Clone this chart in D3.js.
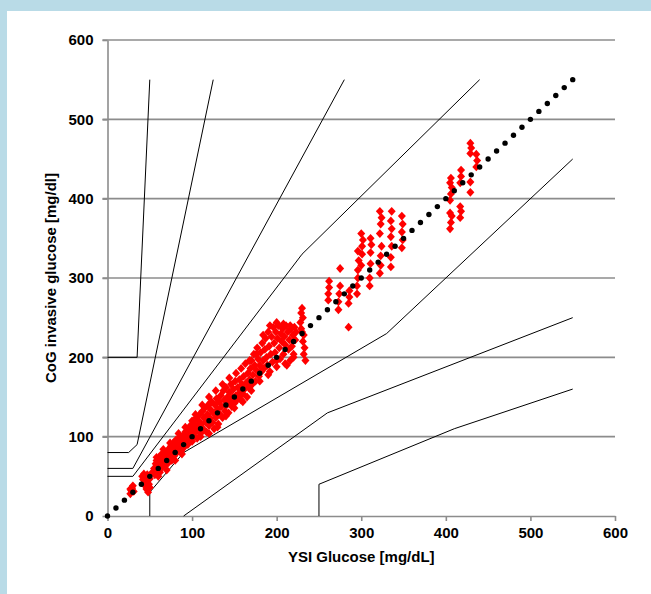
<!DOCTYPE html>
<meta charset="utf-8">
<style>
  body { margin: 0; }
  text { font-family: "Liberation Sans", Arial, sans-serif; font-weight: bold; }
</style>
<script src="https://d3js.org/d3.v7.min.js"></script>
<div id="my_dataviz"></div>
<script>

// axis ticks
var xTicks = [0, 100, 200, 300, 400, 500, 600];
var yTicks = [0, 100, 200, 300, 400, 500, 600];

// Parkes (type 2) error grid boundaries, [YSI, CoG]
var zoneA_upper = [[0, 50], [30, 50], [230, 330], [440, 550]];
var zoneA_lower = [[50, 0], [50, 30], [90, 80], [330, 230], [550, 450]];
var zoneB_upper = [[0, 60], [30, 60], [280, 550]];
var zoneB_lower = [[90, 0], [260, 130], [550, 250]];
var zoneC_upper = [[0, 80], [25, 80], [35, 90], [125, 550]];
var zoneC_lower = [[250, 0], [250, 40], [410, 110], [550, 160]];
var zoneD_upper = [[0, 200], [35, 200], [50, 550]];

// identity reference dots
var refValues = [0, 10, 20, 30, 40, 50, 60, 70, 80, 90, 100, 110, 120, 130, 140, 150, 160, 170, 180, 190,
  200, 210, 220, 230, 240, 250, 260, 270, 280, 290, 300, 310, 320, 330, 340, 350, 360, 370, 380, 390,
  400, 410, 420, 430, 440, 450, 460, 470, 480, 490, 500, 510, 520, 530, 540, 550];

// paired readings [YSI, CoG]
var lowRange = [[27,28],[28,32],[29,35],[30,38],[31,31],[27,34],
  [41,50],[42,46],[43,53],[44,42],[45,38],[45,48],[46,34],[47,44],[47,52],[48,30],[49,40],[50,36],[50,47],[43,40],
  [53,55],[55,60],[56,52],[57,66],[58,70],[59,58],[60,62],[61,74],[62,55],[63,68],[64,78],[65,62],[66,72],[67,65],
  [68,80],[69,70],[70,76],[71,66],[72,84],[73,72],[74,78],[75,88],[76,70],[77,82],[78,92],[79,76],[80,86],[81,96],
  [82,80],[83,90],[84,84],[85,98],[86,88],[87,82],[88,94],[89,100],[90,86],
  [92,106],[93,96],[94,102],[95,90],[96,108],[97,98],[98,114],[99,104],[100,94],[100,120],[101,110],[102,100],
  [103,116],[104,106],[105,124],[106,98],
  [58,74],[66,84],[74,92],[84,104],[92,112],[60,50],[70,58],[80,70],[88,78]];

var midLowRange = [[107,112],[108,120],[109,128],[110,104],[111,116],[112,132],[113,110],[114,124],[115,136],
  [116,118],[117,106],[118,128],[119,140],[120,114],[121,124],[122,134],[123,144],[124,118],[125,130],[126,110],
  [127,140],[128,124],[129,148],[130,134],[131,116],[132,144],[133,128],[134,152],[135,138],[136,124],[137,158],
  [138,146],[139,132],[140,162],[141,140],[142,150],[143,130],[144,156],[145,144],[146,166],[147,138],[148,150],
  [149,160],[150,142],[151,170],[152,152],[153,146],[154,162],[155,150],[156,172],[157,156],[158,146],[159,166],
  [160,154],[161,176],[162,160],[163,192],[164,168],[165,150],
  [104,128],[112,140],[120,150],[128,158],[136,166],[144,174],[152,180],[158,186],
  [110,100],[120,104],[130,112],[140,126],[150,136],[160,144]];

var midRange = [[166,180],[167,162],[168,172],[169,186],[170,196],[171,166],[172,178],[173,204],[174,190],[175,170],
  [176,184],[177,212],[178,198],[179,176],[180,190],[181,206],[182,182],[183,218],[184,196],[185,186],[186,210],
  [187,224],[188,200],[189,190],[190,232],[191,214],[192,182],[193,204],[194,226],[195,194],[196,238],[197,218],
  [198,206],[199,232],[200,196],[201,224],[202,240],[203,212],[204,198],[205,230],[206,220],[207,236],[208,204],
  [209,226],[210,216],[211,240],[212,190],[213,232],[214,210],[215,222],[216,196],[217,236],[218,214],[219,228],
  [220,204],[221,238],[222,222],[223,232],
  [228,244],[229,256],[230,262],[231,250],[229,236],[232,228],[231,220],[233,212],[232,204],[234,196],[230,232],
  [168,196],[176,204],[184,228],[192,240],[200,244],[208,242],[216,240],
  [170,158],[180,170],[190,178],[200,188],[210,192],[220,200]];

var highMidRange = [[285,238],
  [261,272],[261,280],[262,288],[262,296],
  [273,260],[273,270],[274,280],[275,290],[275,312],
  [285,268],[286,276],[286,284],
  [295,280],[295,290],[296,300],[296,310],[297,322],[296,334],
  [300,316],[301,330],[301,340],[302,348],[300,356],
  [310,290],[310,300],[311,318],[311,332],[312,342],[311,350],
  [322,306],[323,316],[323,328],[324,340],[322,356],[323,368],[324,376],[322,384],
  [335,314],[335,326],[336,340],[335,352],[336,362],[335,372],[336,384],
  [348,338],[349,348],[348,358],[349,368],[348,378]];

var highRange = [[405,362],[406,370],[407,378],[405,382],[405,398],[406,406],[407,414],[405,420],[406,426],
  [417,376],[418,384],[417,390],[417,420],[418,428],[418,436],
  [429,408],[429,421],
  [429,457],[430,464],[429,470],
  [436,440],[437,448],[436,456]];

var readings = lowRange.concat(midLowRange, midRange, highMidRange, highRange);

var W = 651, H = 594;
var margin = {top: 40, left: 107.5},
    width = 507.5,
    height = 476;

var root = d3.select("#my_dataviz")
  .append("svg")
    .attr("width", W)
    .attr("height", H);

// frame
root.append("rect").attr("width", W).attr("height", H).attr("fill", "#b9dbe7");
root.append("rect").attr("x", 7).attr("y", 11).attr("width", W - 7).attr("height", H - 11).attr("fill", "#ffffff");

var svg = root.append("g")
  .attr("transform", "translate(" + margin.left + "," + margin.top + ")");

var x = d3.scaleLinear().domain([0, 600]).range([0, width]);
var y = d3.scaleLinear().domain([0, 600]).range([height, 0]);

var gridColor = "#8c8c8c";

// horizontal gridlines (with small outward tick)
svg.append("g")
  .selectAll("line")
  .data(yTicks.filter(function(d) { return d > 0; }))
  .enter()
  .append("line")
    .attr("x1", -5)
    .attr("x2", x(600))
    .attr("y1", function(d) { return y(d); })
    .attr("y2", function(d) { return y(d); })
    .style("stroke", gridColor)
    .style("stroke-width", 1.6);

// Y axis
var yAxis = svg.append("g")
  .call(d3.axisLeft(y).tickValues(yTicks).tickSize(5).tickSizeOuter(0).tickPadding(9));
yAxis.select(".domain").style("stroke", gridColor).style("stroke-width", 1.6);
yAxis.selectAll(".tick line").style("stroke", gridColor).style("stroke-width", 1.6);
yAxis.selectAll("text").style("font-size", "15px").style("fill", "#000");

// X axis
var xAxis = svg.append("g")
  .attr("transform", "translate(0," + height + ")")
  .call(d3.axisBottom(x).tickValues(xTicks).tickSize(5).tickSizeOuter(0).tickPadding(6));
xAxis.select(".domain").style("stroke", gridColor).style("stroke-width", 1.6);
xAxis.selectAll(".tick line").style("stroke", gridColor).style("stroke-width", 1.6);
xAxis.selectAll("text").style("font-size", "15px").style("fill", "#000");

// zone lines
var line = d3.line()
  .x(function(d) { return x(d[0]); })
  .y(function(d) { return y(d[1]); });

var zones = [zoneA_upper, zoneA_lower, zoneB_upper, zoneB_lower, zoneC_upper, zoneC_lower, zoneD_upper];
svg.append("g")
  .selectAll("path")
  .data(zones)
  .enter()
  .append("path")
    .attr("d", line)
    .style("fill", "none")
    .style("stroke", "#000")
    .style("stroke-width", 1);

// red readings (diamonds)
var sw = 4, sh = 4.4;
svg.append("g")
  .selectAll("path")
  .data(readings)
  .enter()
  .append("path")
    .attr("transform", function(d) { return "translate(" + x(d[0]) + "," + y(d[1]) + ")"; })
    .attr("d", "M0," + (-sh) + "L" + sw + ",0L0," + sh + "L" + (-sw) + ",0Z")
    .style("fill", "#ff0000");

// identity dots
svg.append("g")
  .selectAll("circle")
  .data(refValues)
  .enter()
  .append("circle")
    .attr("cx", function(d) { return x(d); })
    .attr("cy", function(d) { return y(d); })
    .attr("r", 2.7)
    .style("fill", "#000");

// axis titles
svg.append("text")
  .attr("x", width / 2)
  .attr("y", height + 46)
  .attr("text-anchor", "middle")
  .style("font-size", "15px")
  .text("YSI Glucose [mg/dL]");

svg.append("text")
  .attr("transform", "translate(" + (-52) + "," + (height / 2) + ") rotate(-90)")
  .attr("text-anchor", "middle")
  .style("font-size", "15px")
  .text("CoG invasive glucose [mg/dl]");

</script>
